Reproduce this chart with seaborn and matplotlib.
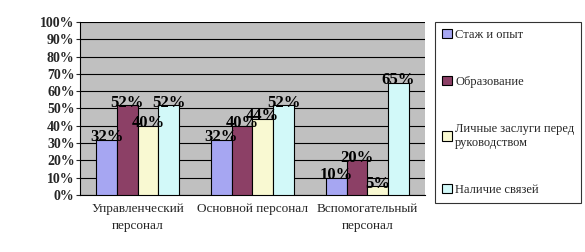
import matplotlib
matplotlib.use("Agg")
import matplotlib.pyplot as plt
import seaborn as sns
import pandas as pd

categories = ["Управленческий\nперсонал", "Основной персонал", "Вспомогательный\nперсонал"]
series = ["Стаж и опыт", "Образование", "Личные заслуги перед\nруководством", "Наличие связей"]
values_staj = [32, 32, 10]
values_obraz = [52, 40, 20]
values_zaslugi = [40, 44, 5]
values_svyazi = [52, 52, 65]
colors = ["#9999FF", "#993366", "#FFFFCC", "#CCFFFF"]
yticks = list(range(0, 101, 10))

rows = []
for s, vals in zip(series, [values_staj, values_obraz, values_zaslugi, values_svyazi]):
    for c, v in zip(categories, vals):
        rows.append({"cat": c, "series": s, "val": v})
df = pd.DataFrame(rows)

sns.set_style("white")
plt.rcParams['font.family'] = ['Liberation Serif', 'DejaVu Serif']

fig = plt.figure(figsize=(5.85, 2.52), dpi=100)
ax = fig.add_axes([0.137, 0.226, 0.589, 0.687])
ax.set_facecolor("#C0C0C0")
sns.barplot(data=df, x="cat", y="val", hue="series", palette=colors, width=0.72,
            edgecolor="black", linewidth=0.8, ax=ax, legend=True, zorder=3)
ax.set_ylim(0, 100)
ax.set_xlim(-0.5, 2.5)
ax.set_yticks(yticks)
ax.set_yticklabels([f"{t}%" for t in yticks], fontsize=10, fontweight="bold")
ax.yaxis.grid(True, color="black", linewidth=0.8, zorder=0)
ax.set_axisbelow(True)
ax.set_xlabel("")
ax.set_ylabel("")
for lbl in ax.get_xticklabels():
    lbl.set_linespacing(1.5)
ax.tick_params(axis="x", labelsize=9.5, length=0, pad=6)
ax.tick_params(axis="y", length=3, pad=1, direction="out", left=True)
for sp in ["top", "right"]:
    ax.spines[sp].set_visible(False)
ax.spines["left"].set_color("black")
ax.spines["bottom"].set_color("black")

for cont in ax.containers:
    ax.bar_label(cont, labels=[f"{int(v)}%" for v in cont.datavalues], fontsize=12,
                 fontweight="bold", padding=-4, color="black")

handles, labels = ax.get_legend_handles_labels()
ax.get_legend().remove()
leg = fig.legend(handles, labels, loc="upper left", bbox_to_anchor=(0.744, 0.913),
                 prop={"size": 9}, frameon=True, fancybox=False, edgecolor="black",
                 labelspacing=2.8, handlelength=0.8, handleheight=0.8, handletextpad=0.25,
                 borderpad=0.55, borderaxespad=0)
leg.get_frame().set_linewidth(0.8)

fig.savefig("out.png", dpi=100, facecolor="white")
